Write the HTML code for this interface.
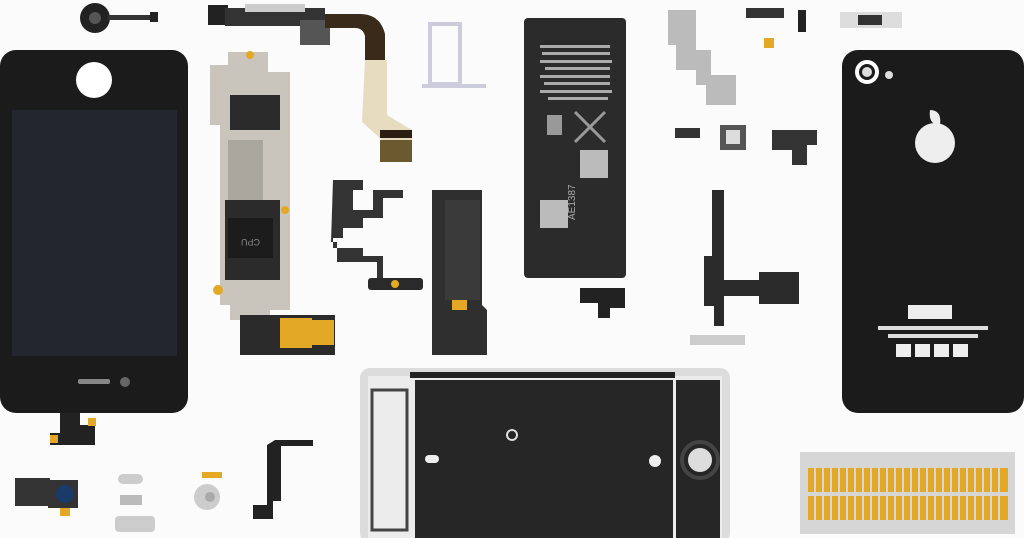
<!DOCTYPE html>
<html><head><style>html,body{margin:0;padding:0;background:#fbfbfb;}svg{display:block}</style></head><body>
<svg width="1024" height="538" viewBox="0 0 1024 538" xmlns="http://www.w3.org/2000/svg">
<rect width="1024" height="538" fill="#fbfbfb"/>
<!-- home button -->
<circle cx="95" cy="18" r="15" fill="#222"/><circle cx="95" cy="18" r="6" fill="#555"/><rect x="108" y="15" width="50" height="5" fill="#333"/><rect x="150" y="12" width="8" height="10" fill="#222"/>
<!-- front phone -->
<rect x="0" y="50" width="188" height="363" rx="16" fill="#1b1b1b"/>
<rect x="12" y="110" width="165" height="246" fill="#24262f"/>
<circle cx="94" cy="80" r="18" fill="#fff"/>
<rect x="78" y="379" width="32" height="5" rx="2" fill="#888"/><circle cx="125" cy="382" r="5" fill="#666"/>
<path d="M60 413 h20 v12 h15 v20 h-45 v-12 h10z" fill="#222"/><rect x="50" y="435" width="8" height="8" fill="#e3a825"/><rect x="88" y="418" width="8" height="8" fill="#e3a825"/>
<!-- dock connector cable -->
<rect x="208" y="5" width="20" height="20" fill="#222"/><rect x="225" y="8" width="100" height="18" fill="#333"/><rect x="245" y="4" width="60" height="8" fill="#ccc"/>
<rect x="300" y="20" width="30" height="25" fill="#555"/>
<path d="M325 14 h35 q20 0 25 20 v30 h-20 v-28 q-2-8-10-8 h-30z" fill="#3a2a1a"/>
<path d="M365 60 h22 v55 l25 15 v10 h-30 l-20 -18z" fill="#e8dcc0"/><rect x="380" y="130" width="32" height="8" fill="#2a1f10"/><rect x="380" y="140" width="32" height="22" fill="#6b5a30"/>
<!-- SIM tray -->
<rect x="430" y="24" width="30" height="60" fill="none" stroke="#ccd" stroke-width="4"/><rect x="422" y="84" width="64" height="4" fill="#ccd"/>
<!-- logic board -->
<path d="M228 52 h40 v20 h22 v238 h-20 v10 h-40 v-15 h-10 v-180 h-10 v-60 h18z" fill="#c9c5bc"/>
<rect x="230" y="95" width="50" height="35" fill="#2b2b2b"/><rect x="228" y="140" width="35" height="60" fill="#aaa79e"/>
<rect x="225" y="200" width="55" height="80" fill="#2b2b2b"/><rect x="228" y="218" width="45" height="40" fill="#1c1c1c"/>
<text x="240" y="245" font-family="Liberation Sans, sans-serif" font-size="9" fill="#888" transform="rotate(180 250 242)">CPU</text>
<rect x="240" y="315" width="95" height="40" fill="#2b2b2b"/><rect x="280" y="318" width="32" height="30" fill="#e3a825"/><rect x="312" y="320" width="22" height="25" fill="#e3a825"/>
<circle cx="250" cy="55" r="4" fill="#e3a825"/><circle cx="285" cy="210" r="4" fill="#e3a825"/><circle cx="218" cy="290" r="5" fill="#e3a825"/>
<!-- small flex -->
<path d="M333 180 h30 v10 h-10 v20 h20 v-20 h30 v8 h-20 v20 h-20 v10 h-20 v10 h-10 v10 h30 v8 h20 v28 h-6 v-22 h-40 v-20 h-6 z" fill="#333"/>
<rect x="368" y="278" width="55" height="12" rx="3" fill="#2a2a2a"/><circle cx="395" cy="284" r="4" fill="#e3a825"/>
<!-- speaker -->
<path d="M432 190 h50 v115 l5 5 v45 h-55z" fill="#2f2f2f"/><rect x="445" y="200" width="35" height="100" fill="#3a3a3a"/><rect x="452" y="300" width="15" height="10" fill="#e3a825"/>
<!-- battery -->
<rect x="524" y="18" width="102" height="260" rx="4" fill="#2b2b2b"/>
<g fill="#aaa"><rect x="540" y="45" width="70" height="3"/><rect x="542" y="52" width="68" height="3"/><rect x="540" y="60" width="72" height="3"/><rect x="545" y="67" width="65" height="3"/><rect x="540" y="75" width="70" height="3"/><rect x="544" y="82" width="66" height="3"/><rect x="540" y="90" width="72" height="3"/><rect x="548" y="97" width="60" height="3"/></g>
<rect x="547" y="115" width="15" height="20" fill="#999"/><path d="M575 112 l30 30 M605 112 l-30 30" stroke="#999" stroke-width="3"/>
<rect x="580" y="150" width="28" height="28" fill="#bbb"/><rect x="540" y="200" width="28" height="28" fill="#bbb"/>
<text x="585" y="200" font-family="Liberation Sans, sans-serif" font-size="10" fill="#aaa" transform="rotate(-90 590 215)">AE1387</text>
<path d="M580 288 h45 v20 h-15 v10 h-12 v-15 h-18z" fill="#222"/>
<!-- top right brackets -->
<path d="M668 10 h28 v40 h15 v25 h25 v30 h-30 v-20 h-10 v-15 h-20 v-25 h-8z" fill="#bbb"/>
<rect x="746" y="8" width="38" height="10" fill="#333"/><rect x="764" y="38" width="10" height="10" fill="#e3a825"/><rect x="798" y="10" width="8" height="22" fill="#222"/>
<rect x="840" y="12" width="62" height="16" fill="#ddd"/><rect x="858" y="15" width="24" height="10" fill="#333"/>
<rect x="675" y="128" width="25" height="10" fill="#333"/><rect x="720" y="125" width="26" height="25" fill="#555"/><rect x="726" y="130" width="14" height="14" fill="#ddd"/>
<path d="M772 130 h45 v15 h-10 v20 h-15 v-15 h-20z" fill="#333"/>
<!-- volume flex -->
<path d="M712 190 h12 v90 h35 v-8 h40 v32 h-40 v-8 h-35 v30 h-10 v-20 h-10 v-50 h8z" fill="#2a2a2a"/>
<rect x="690" y="335" width="55" height="10" fill="#ccc"/>
<!-- back phone -->
<rect x="842" y="50" width="182" height="363" rx="16" fill="#1b1b1b"/>
<circle cx="867" cy="72" r="12" fill="#fff"/><circle cx="867" cy="72" r="8" fill="#1b1b1b"/><circle cx="867" cy="72" r="5" fill="#ddd"/><circle cx="889" cy="75" r="4" fill="#ddd"/>
<circle cx="935" cy="143" r="20" fill="#eee"/><path d="M930 110 q12 0 10 15 q-12 0 -10 -15z" fill="#eee"/>
<rect x="908" y="305" width="44" height="14" fill="#eee"/><rect x="878" y="326" width="110" height="4" fill="#ddd"/><rect x="888" y="334" width="90" height="4" fill="#ddd"/>
<g fill="#eee"><rect x="896" y="344" width="15" height="13"/><rect x="915" y="344" width="15" height="13"/><rect x="934" y="344" width="15" height="13"/><rect x="953" y="344" width="15" height="13"/></g>
<!-- middle frame -->
<rect x="360" y="368" width="370" height="175" rx="10" fill="#dcdcdc"/>
<rect x="368" y="376" width="354" height="170" fill="#ececec"/>
<rect x="415" y="380" width="258" height="165" fill="#262626"/>
<rect x="410" y="372" width="265" height="6" fill="#222"/>
<circle cx="512" cy="435" r="5" fill="none" stroke="#ddd" stroke-width="2"/><rect x="425" y="455" width="14" height="8" rx="4" fill="#eee"/><circle cx="655" cy="461" r="6" fill="#eee"/>
<rect x="676" y="380" width="44" height="160" fill="#262626"/><circle cx="700" cy="460" r="12" fill="#ddd"/><circle cx="700" cy="460" r="18" fill="none" stroke="#444" stroke-width="4"/>
<rect x="372" y="390" width="35" height="140" fill="none" stroke="#444" stroke-width="3"/>
<!-- connector strip -->
<rect x="800" y="452" width="215" height="82" fill="#d6d6d6"/>
<rect x="808" y="468" width="200" height="24" fill="#e3a825"/><rect x="808" y="496" width="200" height="24" fill="#e3a825"/>
<g stroke="#d6d6d6" stroke-width="2"><path d="M815 468v52M823 468v52M831 468v52M839 468v52M847 468v52M855 468v52M863 468v52M871 468v52M879 468v52M887 468v52M895 468v52M903 468v52M911 468v52M919 468v52M927 468v52M935 468v52M943 468v52M951 468v52M959 468v52M967 468v52M975 468v52M983 468v52M991 468v52M999 468v52"/></g>
<!-- bottom small parts -->
<rect x="15" y="478" width="35" height="28" fill="#333"/><rect x="48" y="480" width="30" height="28" fill="#333"/><circle cx="65" cy="494" r="9" fill="#1a3a6a"/><rect x="60" y="508" width="10" height="8" fill="#e3a825"/>
<rect x="118" y="474" width="25" height="10" rx="5" fill="#ccc"/><rect x="120" y="495" width="22" height="10" fill="#bbb"/><rect x="115" y="516" width="40" height="16" rx="4" fill="#ccc"/>
<circle cx="207" cy="497" r="13" fill="#ccc"/><circle cx="210" cy="497" r="5" fill="#aaa"/><rect x="202" y="472" width="20" height="6" fill="#e3a825"/>
<path d="M275 440 h38 v6 h-32 v55 h-8 v18 h-20 v-14 h14 v-60z" fill="#222"/>
</svg>
</body></html>
